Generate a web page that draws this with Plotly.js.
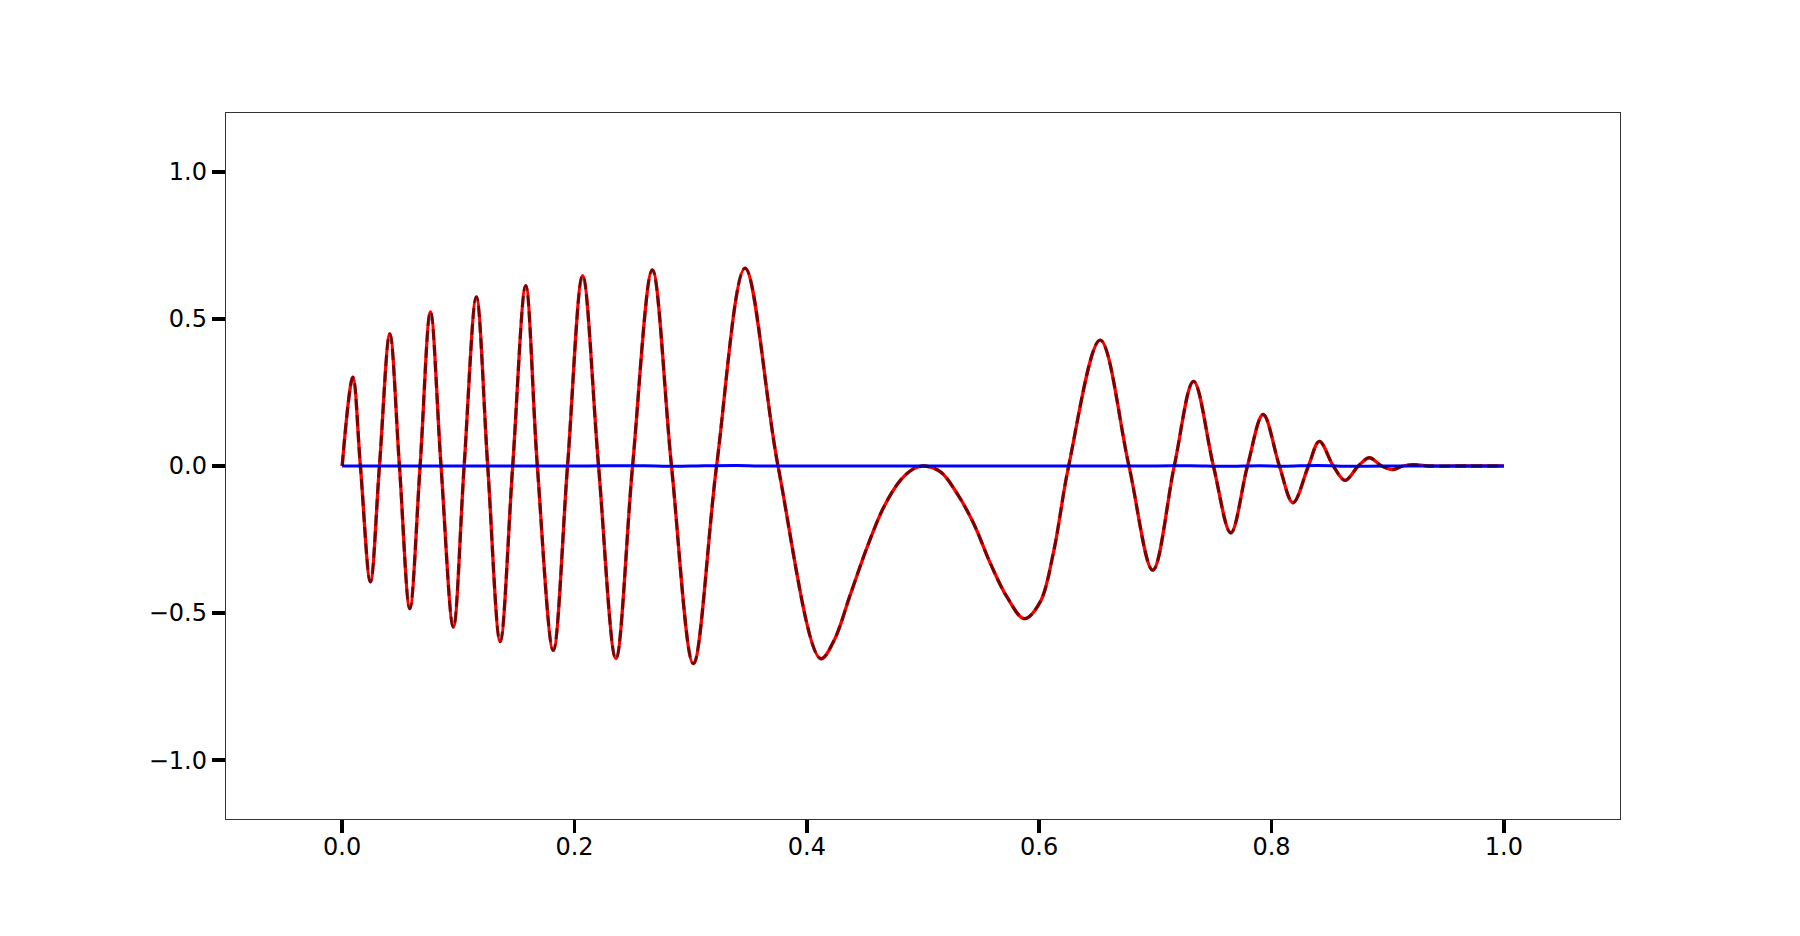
<!DOCTYPE html>
<html>
<head>
<meta charset="utf-8">
<script src="https://cdn.plot.ly/plotly-3.0.1.min.js"></script>
<style>html,body{margin:0;padding:0;background:#fff;}#chart{width:1800px;height:936px;}</style>
</head>
<body>
<div id="chart"></div>
<script>
// Signal (extrema, zero crossings and shoulder points on the slow part)
const signalX = [0.0, 0.0092, 0.0157, 0.0243, 0.0321, 0.041, 0.0493, 0.0582, 0.0671, 0.076, 0.0851, 0.0957, 0.105, 0.1155, 0.1253, 0.136, 0.1468, 0.158, 0.168, 0.1817, 0.194, 0.207, 0.2207, 0.2356, 0.25, 0.267, 0.2835, 0.3023, 0.3223, 0.3468, 0.3752, 0.4119, 0.4233, 0.4377, 0.452, 0.4663, 0.4807, 0.4921, 0.5007, 0.5151, 0.5294, 0.5437, 0.5581, 0.5724, 0.5872, 0.6009, 0.6125, 0.6254, 0.6525, 0.6773, 0.6978, 0.7163, 0.7329, 0.75, 0.765, 0.7793, 0.7928, 0.8068, 0.8185, 0.8318, 0.8412, 0.8532, 0.8633, 0.8747, 0.8842, 0.8948, 0.9043, 0.913, 0.922, 0.935, 0.96, 1.0];
const signalY = [0.0, 0.302, 0.0, -0.394, 0.0, 0.449, 0.0, -0.485, 0.0, 0.524, 0.0, -0.548, 0.0, 0.575, 0.0, -0.597, 0.0, 0.613, 0.0, -0.627, 0.0, 0.647, 0.0, -0.655, 0.0, 0.667, 0.0, -0.672, 0.0, 0.673, 0.0, -0.655, -0.594, -0.434, -0.275, -0.139, -0.048, -0.009, 0.0, -0.02, -0.094, -0.196, -0.332, -0.446, -0.519, -0.462, -0.29, 0.0, 0.428, 0.0, -0.354, 0.0, 0.288, 0.0, -0.227, 0.0, 0.175, 0.0, -0.125, 0.0, 0.084, 0.0, -0.049, 0.0, 0.028, 0.0, -0.012, 0.0, 0.005, 0.0, 0.0, 0.0];
// Residual line, almost flat at zero
const residX = [0.0, 0.1, 0.2, 0.26, 0.28, 0.3, 0.34, 0.36, 0.5, 0.7, 0.73, 0.76, 0.79, 0.81, 0.84, 0.86, 0.9, 1.0];
const residY = [0.0, 0.0, 0.0, 0.001, -0.001, 0.0, 0.002, 0.0, 0.0, 0.0, 0.001, -0.001, 0.001, -0.001, 0.002, -0.001, 0.0, 0.0];
const xTicks = [0.0, 0.2, 0.4, 0.6, 0.8, 1.0];
const yTicks = [-1.0, -0.5, 0.0, 0.5, 1.0];

const traces = [
  {x: signalX, y: signalY, mode: 'lines', line: {color: '#ff0000', width: 3.3, shape: 'spline', smoothing: 1}, hoverinfo: 'skip'},
  {x: residX, y: residY, mode: 'lines', line: {color: '#0000ff', width: 3, shape: 'spline', smoothing: 1}, hoverinfo: 'skip'},
  {x: signalX, y: signalY, mode: 'lines', line: {color: 'rgba(0,0,0,0.5)', width: 3.3, dash: '11px,5px', shape: 'spline', smoothing: 1}, hoverinfo: 'skip'}
];

const axisCommon = {
  showgrid: false, zeroline: false, showline: true, mirror: true,
  linecolor: '#333333', linewidth: 1.2,
  ticks: 'outside', ticklen: 13, tickwidth: 3.5, tickcolor: '#000',
  tickfont: {family: 'DejaVu Sans', size: 24, color: '#000'},
  tickformat: '.1f'
};

const layout = {
  width: 1800, height: 936,
  margin: {l: 226, r: 180, t: 113, b: 117},
  paper_bgcolor: '#fff', plot_bgcolor: '#fff',
  showlegend: false,
  xaxis: Object.assign({}, axisCommon, {range: [-0.1, 1.1], tickvals: xTicks, ticklabelstandoff: -7}),
  yaxis: Object.assign({}, axisCommon, {range: [-1.2, 1.2], tickvals: yTicks})
};

Plotly.newPlot('chart', traces, layout, {staticPlot: true, displayModeBar: false});
</script>
</body>
</html>
